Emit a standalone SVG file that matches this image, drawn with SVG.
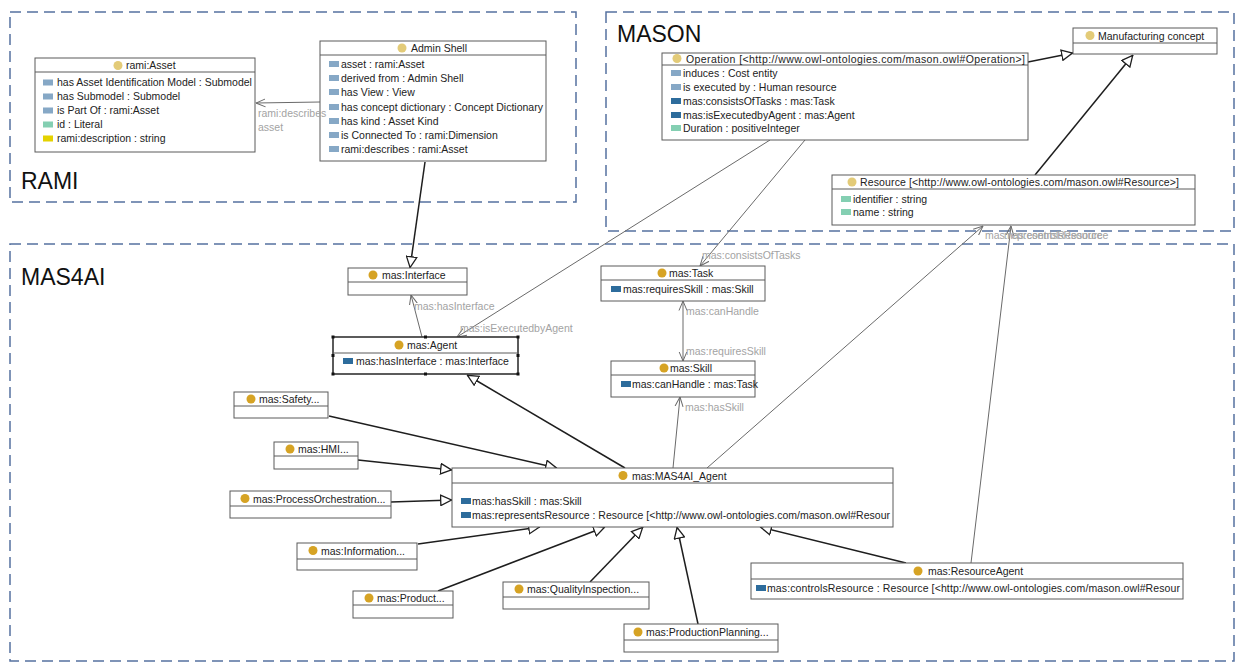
<svg xmlns="http://www.w3.org/2000/svg" width="1236" height="665" viewBox="0 0 1236 665">
<style>
.bg{fill:#fff}
.box{fill:#fff;stroke:#5a5a5a;stroke-width:1}
.sep{stroke:#5a5a5a;stroke-width:1}
.t{font-family:"Liberation Sans",Arial,sans-serif;font-size:10.5px;fill:#222}
.lbl{font-family:"Liberation Sans",Arial,sans-serif;font-size:10.5px;fill:#a3a3a3}
.big{font-family:"Liberation Sans",Arial,sans-serif;font-size:23px;fill:#111}
.grp{fill:none;stroke:#5672a0;stroke-width:1.5;stroke-dasharray:11 6}
.gen{fill:none;stroke:#1e1e1e;stroke-width:1.5;marker-end:url(#tri)}
.asc{fill:none;stroke:#6a6a6a;stroke-width:1;marker-end:url(#arr)}
.cy{fill:#e3cb78}
.cg{fill:#d6a324}
.ib{fill:#86a8c6}
.id{fill:#2d6c9c}
.it{fill:#84cfb2}
.iy{fill:#e4d200}
.h{fill:#111}
</style>
<defs>
<marker id="tri" viewBox="0 0 12 12" refX="12" refY="6" markerWidth="12" markerHeight="12" markerUnits="userSpaceOnUse" orient="auto">
<path d="M0.7,0.8 L11.5,6 L0.7,11.2 Z" fill="#fff" stroke="#1e1e1e" stroke-width="1.3"/>
</marker>
<marker id="arr" viewBox="0 0 10 10" refX="9.5" refY="5" markerWidth="10" markerHeight="10" markerUnits="userSpaceOnUse" orient="auto-start-reverse">
<path d="M0,1 L9.5,5 L0,9" fill="none" stroke="#6a6a6a" stroke-width="1"/>
</marker>
</defs>
<rect class="bg" x="0" y="0" width="1236" height="665"/>

<g id="groups">
<rect class="grp" x="10" y="12" width="566" height="190"/>
<rect class="grp" x="606" y="12" width="628" height="219"/>
<rect class="grp" x="10" y="244" width="1224" height="417"/>
<text class="big" x="21" y="189">RAMI</text>
<text class="big" x="617" y="42">MASON</text>
<text class="big" x="21" y="285">MAS4AI</text>
</g>

<g id="connectors">
<line class="gen" x1="425" y1="162" x2="410" y2="268"/>
<line class="gen" x1="1028" y1="62" x2="1073" y2="53"/>
<line class="gen" x1="1035" y1="175" x2="1133" y2="55"/>
<line class="gen" x1="625" y1="468" x2="467" y2="375"/>
<line class="gen" x1="329" y1="416" x2="557" y2="468"/>
<line class="gen" x1="358" y1="460" x2="452" y2="470"/>
<line class="gen" x1="391" y1="502" x2="452" y2="500"/>
<line class="gen" x1="418" y1="544" x2="540" y2="527"/>
<line class="gen" x1="438" y1="591" x2="605" y2="527"/>
<line class="gen" x1="590" y1="582" x2="643" y2="527"/>
<line class="gen" x1="698" y1="624" x2="677" y2="527"/>
<line class="gen" x1="906" y1="563" x2="760" y2="527"/>

<line class="asc" x1="320" y1="102" x2="256" y2="103"/>
<line class="asc" x1="422" y1="337" x2="411" y2="295"/>
<line class="asc" x1="770" y1="140" x2="457" y2="337"/>
<line class="asc" x1="805" y1="140" x2="700" y2="266"/>
<line class="asc" x1="683" y1="301" x2="683" y2="361" marker-start="url(#arr)"/>
<line class="asc" x1="673" y1="468" x2="680" y2="397"/>
<line class="asc" x1="707" y1="468" x2="983" y2="226"/>
<line class="asc" x1="971" y1="563" x2="1011" y2="226"/>
</g>

<g id="rami-asset">
<rect class="box" x="35" y="58" width="220" height="94"/>
<line class="sep" x1="35" y1="72" x2="255" y2="72"/>
<circle class="cy" cx="118" cy="65.5" r="4.5"/>
<text class="t" x="126" y="69">rami:Asset</text>
<rect class="ib" x="43" y="79.5" width="10" height="6"/><text class="t" x="57" y="86">has Asset Identification Model : Submodel</text>
<rect class="ib" x="43" y="93.5" width="10" height="6"/><text class="t" x="57" y="100">has Submodel : Submodel</text>
<rect class="ib" x="43" y="107.5" width="10" height="6"/><text class="t" x="57" y="114">is Part Of : rami:Asset</text>
<rect class="it" x="43" y="121.5" width="10" height="6"/><text class="t" x="57" y="128">id : Literal</text>
<rect class="iy" x="43" y="135.5" width="10" height="6"/><text class="t" x="57" y="142">rami:description : string</text>
</g>

<g id="admin-shell">
<rect class="box" x="320" y="41" width="226" height="120"/>
<line class="sep" x1="320" y1="55" x2="546" y2="55"/>
<circle class="cy" cx="402" cy="48" r="4.5"/>
<text class="t" x="411" y="52">Admin Shell</text>
<rect class="ib" x="329" y="61" width="10" height="6"/><text class="t" x="341" y="67.5">asset : rami:Asset</text>
<rect class="ib" x="329" y="75" width="10" height="6"/><text class="t" x="341" y="81.5">derived from : Admin Shell</text>
<rect class="ib" x="329" y="89" width="10" height="6"/><text class="t" x="341" y="95.5">has View : View</text>
<rect class="ib" x="329" y="104" width="10" height="6"/><text class="t" x="341" y="110.5">has concept dictionary : Concept Dictionary</text>
<rect class="ib" x="329" y="118" width="10" height="6"/><text class="t" x="341" y="124.5">has kind : Asset Kind</text>
<rect class="ib" x="329" y="132" width="10" height="6"/><text class="t" x="341" y="138.5">is Connected To : rami:Dimension</text>
<rect class="ib" x="329" y="146" width="10" height="6"/><text class="t" x="341" y="152.5">rami:describes : rami:Asset</text>
</g>

<g id="operation">
<rect class="box" x="662" y="53" width="366" height="87"/>
<line class="sep" x1="662" y1="65" x2="1028" y2="65"/>
<circle class="cy" cx="677" cy="58.5" r="4.5"/>
<text class="t" x="686" y="62.5" textLength="339" lengthAdjust="spacing">Operation  [&lt;http://www.owl-ontologies.com/mason.owl#Operation&gt;]</text>
<rect class="ib" x="671" y="70" width="10" height="6"/><text class="t" x="683" y="76.5">induces : Cost entity</text>
<rect class="ib" x="671" y="84" width="10" height="6"/><text class="t" x="683" y="90.5">is executed by : Human resource</text>
<rect class="id" x="671" y="98" width="10" height="6"/><text class="t" x="683" y="104.5">mas:consistsOfTasks : mas:Task</text>
<rect class="id" x="671" y="112" width="10" height="6"/><text class="t" x="683" y="118.5">mas:isExecutedbyAgent : mas:Agent</text>
<rect class="it" x="671" y="125" width="10" height="6"/><text class="t" x="683" y="131.5">Duration : positiveInteger</text>
</g>

<g id="manufacturing-concept">
<rect class="box" x="1073" y="28" width="144" height="26"/>
<line class="sep" x1="1073" y1="43" x2="1217" y2="43"/>
<circle class="cy" cx="1090" cy="35.5" r="4.5"/>
<text class="t" x="1098" y="39.5">Manufacturing concept</text>
</g>

<g id="resource">
<rect class="box" x="832" y="175" width="363" height="50"/>
<line class="sep" x1="832" y1="189" x2="1195" y2="189"/>
<circle class="cy" cx="852" cy="182" r="4.5"/>
<text class="t" x="860" y="186" textLength="319" lengthAdjust="spacing">Resource  [&lt;http://www.owl-ontologies.com/mason.owl#Resource&gt;]</text>
<rect class="it" x="841" y="196" width="10" height="6"/><text class="t" x="853" y="202.5">identifier : string</text>
<rect class="it" x="841" y="209" width="10" height="6"/><text class="t" x="853" y="215.5">name : string</text>
</g>

<g id="mas-interface">
<rect class="box" x="348" y="268" width="119" height="27"/>
<line class="sep" x1="348" y1="282" x2="467" y2="282"/>
<circle class="cg" cx="373" cy="275" r="4.5"/>
<text class="t" x="382" y="279">mas:Interface</text>
</g>

<g id="mas-agent">
<rect class="box" x="333" y="337" width="185" height="37" style="stroke:#333;stroke-width:1.6"/>
<line class="sep" x1="333" y1="353" x2="518" y2="353"/>
<circle class="cg" cx="399" cy="345" r="4.5"/>
<text class="t" x="407" y="349">mas:Agent</text>
<rect class="id" x="343" y="358" width="10" height="6"/><text class="t" x="356" y="364.5">mas:hasInterface : mas:Interface</text>
<rect class="h" x="331.5" y="335.5" width="3" height="3"/>
<rect class="h" x="424" y="335.5" width="3" height="3"/>
<rect class="h" x="516.5" y="335.5" width="3" height="3"/>
<rect class="h" x="331.5" y="354" width="3" height="3"/>
<rect class="h" x="516.5" y="354" width="3" height="3"/>
<rect class="h" x="331.5" y="372.5" width="3" height="3"/>
<rect class="h" x="424" y="372.5" width="3" height="3"/>
<rect class="h" x="516.5" y="372.5" width="3" height="3"/>
</g>

<g id="mas-task">
<rect class="box" x="601" y="266" width="164" height="35"/>
<line class="sep" x1="601" y1="280" x2="765" y2="280"/>
<circle class="cg" cx="662" cy="273" r="4.5"/>
<text class="t" x="669" y="277">mas:Task</text>
<rect class="id" x="611" y="286" width="10" height="6"/><text class="t" x="623" y="292.5">mas:requiresSkill : mas:Skill</text>
</g>

<g id="mas-skill">
<rect class="box" x="611" y="361" width="144" height="36"/>
<line class="sep" x1="611" y1="375" x2="755" y2="375"/>
<circle class="cg" cx="664" cy="368" r="4.5"/>
<text class="t" x="670" y="372">mas:Skill</text>
<rect class="id" x="621" y="381" width="10" height="6"/><text class="t" x="632" y="387.5">mas:canHandle : mas:Task</text>
</g>

<g id="mas-safety">
<rect class="box" x="234" y="392" width="94" height="26"/>
<line class="sep" x1="234" y1="406" x2="328" y2="406"/>
<circle class="cg" cx="251" cy="399" r="4.5"/>
<text class="t" x="259" y="403">mas:Safety...</text>
</g>

<g id="mas-hmi">
<rect class="box" x="274" y="442" width="84" height="27"/>
<line class="sep" x1="274" y1="456" x2="358" y2="456"/>
<circle class="cg" cx="290" cy="449" r="4.5"/>
<text class="t" x="298" y="453">mas:HMI...</text>
</g>

<g id="mas-processorchestration">
<rect class="box" x="230" y="491" width="161" height="27"/>
<line class="sep" x1="230" y1="506" x2="391" y2="506"/>
<circle class="cg" cx="245" cy="498.5" r="4.5"/>
<text class="t" x="253" y="502.5">mas:ProcessOrchestration...</text>
</g>

<g id="mas-mas4ai-agent">
<rect class="box" x="452" y="468" width="441" height="59"/>
<line class="sep" x1="452" y1="483" x2="893" y2="483"/>
<circle class="cg" cx="623" cy="475.5" r="4.5"/>
<text class="t" x="632" y="479.5">mas:MAS4AI_Agent</text>
<rect class="id" x="461" y="498" width="10" height="6"/><text class="t" x="472" y="504.5">mas:hasSkill : mas:Skill</text>
<rect class="id" x="461" y="512" width="10" height="6"/><text class="t" x="472" y="518.5" textLength="418" lengthAdjust="spacing">mas:representsResource : Resource  [&lt;http://www.owl-ontologies.com/mason.owl#Resour</text>
</g>

<g id="mas-information">
<rect class="box" x="297" y="543" width="120" height="27"/>
<line class="sep" x1="297" y1="559" x2="417" y2="559"/>
<circle class="cg" cx="313" cy="550.5" r="4.5"/>
<text class="t" x="321" y="554.5">mas:Information...</text>
</g>

<g id="mas-product">
<rect class="box" x="353" y="591" width="100" height="27"/>
<line class="sep" x1="353" y1="605" x2="453" y2="605"/>
<circle class="cg" cx="369" cy="598" r="4.5"/>
<text class="t" x="377" y="602">mas:Product...</text>
</g>

<g id="mas-qualityinspection">
<rect class="box" x="503" y="582" width="146" height="27"/>
<line class="sep" x1="503" y1="597" x2="649" y2="597"/>
<circle class="cg" cx="519" cy="589" r="4.5"/>
<text class="t" x="527" y="593">mas:QualityInspection...</text>
</g>

<g id="mas-productionplanning">
<rect class="box" x="624" y="624" width="154" height="28"/>
<line class="sep" x1="624" y1="640" x2="778" y2="640"/>
<circle class="cg" cx="638" cy="632" r="4.5"/>
<text class="t" x="646" y="636">mas:ProductionPlanning...</text>
</g>

<g id="mas-resourceagent">
<rect class="box" x="751" y="563" width="432" height="36"/>
<line class="sep" x1="751" y1="579" x2="1183" y2="579"/>
<circle class="cg" cx="918" cy="571" r="4.5"/>
<text class="t" x="928" y="575">mas:ResourceAgent</text>
<rect class="id" x="756" y="585" width="10" height="6"/><text class="t" x="767" y="591.5" textLength="413" lengthAdjust="spacing">mas:controlsResource : Resource  [&lt;http://www.owl-ontologies.com/mason.owl#Resour</text>
</g>

<g id="connector-labels">
<text class="lbl" x="258" y="117">rami:describes</text>
<text class="lbl" x="258" y="131">asset</text>
<text class="lbl" x="414" y="310">mas:hasInterface</text>
<text class="lbl" x="460" y="332">mas:isExecutedbyAgent</text>
<text class="lbl" x="702" y="259">mas:consistsOfTasks</text>
<text class="lbl" x="686" y="315">mas:canHandle</text>
<text class="lbl" x="686" y="355">mas:requiresSkill</text>
<text class="lbl" x="685" y="411">mas:hasSkill</text>
<text class="lbl" x="985" y="239">mas:representsResource</text>
<text class="lbl" x="1004" y="239">mas:controlsResource</text>
</g>
</svg>
